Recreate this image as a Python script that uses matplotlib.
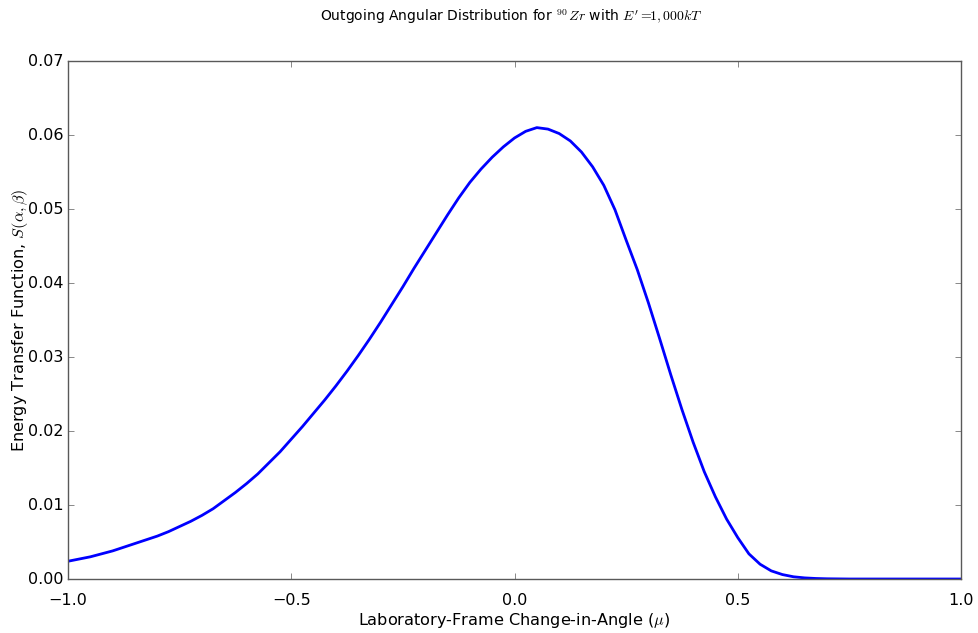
import matplotlib
matplotlib.use("Agg")
import matplotlib.pyplot as plt

mu = [-1.000, -0.975, -0.950, -0.925, -0.900, -0.875, -0.850, -0.825, -0.800, -0.775,
      -0.750, -0.725, -0.700, -0.675, -0.650, -0.625, -0.600, -0.575, -0.550, -0.525,
      -0.500, -0.475, -0.450, -0.425, -0.400, -0.375, -0.350, -0.325, -0.300, -0.275,
      -0.250, -0.225, -0.200, -0.175, -0.150, -0.125, -0.100, -0.075, -0.050, -0.025,
      0.000, 0.025, 0.050, 0.075, 0.100, 0.125, 0.150, 0.175, 0.200, 0.225,
      0.250, 0.275, 0.300, 0.325, 0.350, 0.375, 0.400, 0.425, 0.450, 0.475,
      0.500, 0.525, 0.550, 0.575, 0.600, 0.625, 0.650, 0.675, 0.700,
      0.750, 0.800, 0.850, 0.900, 0.950, 1.000]
S = [0.0024, 0.0027, 0.0030, 0.0034, 0.0038, 0.0043, 0.0048, 0.0053, 0.0058, 0.0064,
     0.0071, 0.0078, 0.0086, 0.0095, 0.0106, 0.0117, 0.0129, 0.0142, 0.0157, 0.0172,
     0.0189, 0.0206, 0.0224, 0.0242, 0.0261, 0.0281, 0.0302, 0.0324, 0.0347, 0.0371,
     0.0395, 0.0420, 0.0444, 0.0468, 0.0492, 0.0515, 0.0536, 0.0554, 0.0570, 0.0584,
     0.0596, 0.0605, 0.0610, 0.0608, 0.0602, 0.0592, 0.0577, 0.0557, 0.0532, 0.0499,
     0.0458, 0.0418, 0.0373, 0.0325, 0.0276, 0.0229, 0.0185, 0.0145, 0.0111, 0.0081,
     0.0056, 0.0034, 0.0020, 0.0011, 0.0006, 0.0003, 0.00015, 0.00007, 0.00003,
     0.0, 0.0, 0.0, 0.0, 0.0, 0.0]

title_text = r"Outgoing Angular Distribution for $^{90}\,Zr$ with $E' =\!\!1,000kT$"

plt.style.use('classic')
plt.rcParams['mathtext.fontset'] = 'cm'

fig = plt.figure(figsize=(9.79, 6.33), dpi=100)
ax = fig.add_axes([0.0695, 0.0853, 0.9121, 0.8183])
ax.plot(mu, S, color='b', linewidth=2)
ax.set_xlim(-1.0, 1.0)
ax.set_ylim(0.0, 0.07)
ax.set_xticks([-1.0, -0.5, 0.0, 0.5, 1.0])
ax.set_yticks([0.0, 0.01, 0.02, 0.03, 0.04, 0.05, 0.06, 0.07])
ax.tick_params(axis='both', labelsize=11.5, color='0.35')
ax.tick_params(axis='x', pad=10)
ax.tick_params(axis='y', pad=3)
for sp in ax.spines.values():
    sp.set_edgecolor('0.35')
ax.set_xlabel(r'Laboratory-Frame Change-in-Angle ($\mu$)', fontsize=11.6, va='center')
ax.set_ylabel(r'Energy Transfer Function, $S(\alpha,\beta)$', fontsize=11.6, va='center')
ax.xaxis.set_label_coords(0.5, -0.081)
ax.yaxis.set_label_coords(-0.0537, 0.5)
fig.text(0.327, 0.973, title_text, fontsize=10, ha='left', va='center')
fig.savefig('out.png', dpi=100)
